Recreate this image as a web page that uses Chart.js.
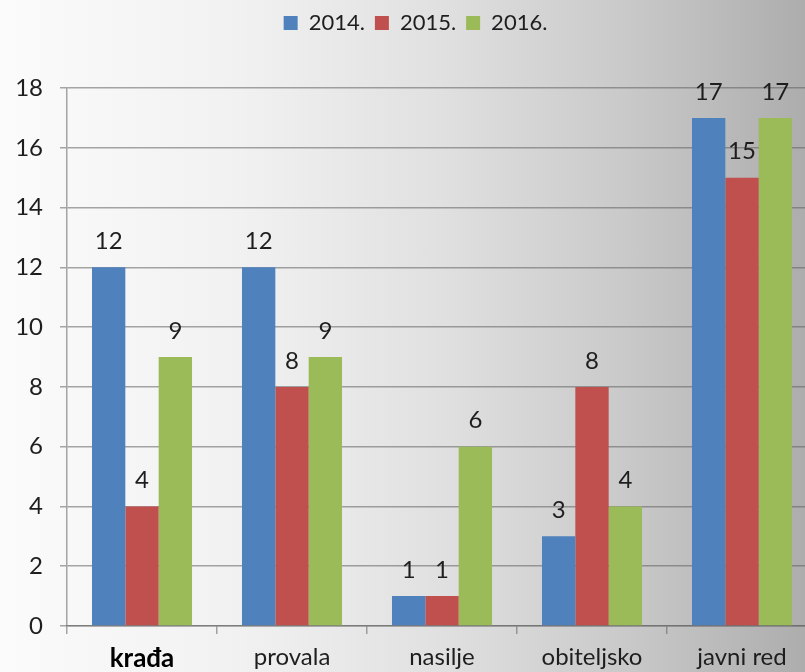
<!DOCTYPE html>
<html>
<head>
<meta charset="utf-8">
<script src="https://cdn.jsdelivr.net/npm/chart.js@4.4.1/dist/chart.umd.min.js"></script>
<style>
    html, body { margin: 0; padding: 0; }
    body {
        width: 805px; height: 672px; overflow: hidden;
        background: linear-gradient(to right, #fbfbfb 0%, #f1f1f1 30%, #e0e0e0 55%, #c9c9c9 78%, #adadad 100%);
    }
    #wrap { width: 805px; height: 672px; overflow: hidden; position: relative; }
    canvas { display: block; }
</style>
</head>
<body>
<div id="wrap"><canvas id="chart" width="844" height="672"></canvas></div>
<script>
// categories and per-year counts
const categories = ["krađa", "provala", "nasilje", "obiteljsko", "javni red"];
const years      = ["2014.", "2015.", "2016."];
const values2014 = [12, 12, 1, 3, 17];
const values2015 = [4, 8, 1, 8, 15];
const values2016 = [9, 9, 6, 4, 17];
const yTicks     = [0, 2, 4, 6, 8, 10, 12, 14, 16, 18];

const colors = ["#4f81bd", "#c0504d", "#9bbb59"];
const FONT = "Lato, 'Open Sans', sans-serif";
const gridColor = "rgba(95, 95, 95, 0.55)";
const PLOT_TOP = 89;

// draws the value above each bar
const valueLabels = {
    id: "valueLabels",
    afterDatasetsDraw(chart) {
        const ctx = chart.ctx;
        ctx.save();
        ctx.font = `24px ${FONT}`;
        ctx.fillStyle = "#1e1e1e";
        ctx.textAlign = "center";
        ctx.textBaseline = "middle";
        chart.data.datasets.forEach((ds, i) => {
            chart.getDatasetMeta(i).data.forEach((bar, j) => {
                ctx.fillText(String(ds.data[j]), bar.x, bar.y - 26);
            });
        });
        ctx.restore();
    }
};

// legend stays near the top; stretch its box so the plot starts lower
const legendGap = {
    id: "legendGap",
    afterInit(chart) {
        const legend = chart.legend;
        if (!legend) return;
        const fit = legend.fit;
        legend.fit = function () {
            fit.call(this);
            this.height = PLOT_TOP - 3;
        };
    }
};

const seriesValues = [values2014, values2015, values2016];

new Chart(document.getElementById("chart"), {
    type: "bar",
    data: {
        labels: categories,
        datasets: years.map((y, i) => ({
            label: y,
            data: seriesValues[i],
            backgroundColor: colors[i],
            borderWidth: 0,
            categoryPercentage: 0.667,
            barPercentage: 1.0,
        })),
    },
    options: {
        responsive: false,
        animation: false,
        layout: { padding: { top: 2, right: 27, bottom: 0, left: 14 } },
        plugins: {
            legend: {
                position: "top",
                labels: {
                    boxWidth: 14,
                    boxHeight: 14,
                    padding: 10,
                    color: "#1e1e1e",
                    font: { family: FONT, size: 22 },
                },
            },
            tooltip: { enabled: false },
        },
        scales: {
            x: {
                offset: true,
                grid: {
                    offset: true,
                    drawOnChartArea: false,
                    tickLength: 8,
                    color: gridColor,
                    lineWidth: 1.5,
                },
                border: { color: gridColor, width: 1.5 },
                ticks: {
                    padding: 9,
                    color: ctx => ctx.index === 0 ? "#000" : "#1e1e1e",
                    font: ctx => ctx.index === 0
                        ? { family: FONT, size: 26, weight: "bold" }
                        : { family: FONT, size: 24 },
                },
                afterFit: s => { s.height = 46; },
            },
            y: {
                min: 0,
                max: 18,
                afterBuildTicks: s => { s.ticks = yTicks.map(v => ({ value: v })); },
                grid: { color: gridColor, lineWidth: 1.5, tickLength: 7 },
                border: { color: gridColor, width: 1.5 },
                ticks: {
                    padding: 17,
                    color: "#1e1e1e",
                    font: { family: FONT, size: 24 },
                },
                afterFit: s => { s.width = 53; },
            },
        },
    },
    plugins: [valueLabels, legendGap],
});
</script>
</body>
</html>
